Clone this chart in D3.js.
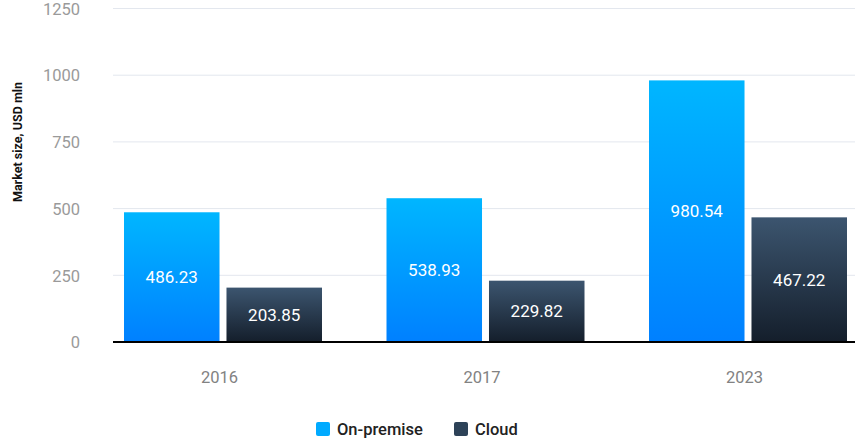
<!DOCTYPE html>
<html><head><meta charset="utf-8">
<script src="https://cdn.jsdelivr.net/npm/d3@7"></script>
<style>body{margin:0;background:#fff;}svg{display:block;font-family:Roboto,"Noto Sans",sans-serif;}</style>
</head><body><svg id="c" width="865" height="438"></svg>
<script>
const years = ["2016", "2017", "2023"];
const series = ["On-premise", "Cloud"];
const onPremise = [486.23, 538.93, 980.54];
const cloud = [203.85, 229.82, 467.22];
const yTicks = [0, 250, 500, 750, 1000, 1250];

const svg = d3.select("#c");
const defs = svg.append("defs");
function grad(id, top, bot){
  const g = defs.append("linearGradient").attr("id", id).attr("x1",0).attr("x2",0).attr("y1",0).attr("y2",1);
  g.append("stop").attr("offset","0%").attr("stop-color",top);
  g.append("stop").attr("offset","100%").attr("stop-color",bot);
}
grad("gOn", "#00b6ff", "#0080ff");
grad("gCl", "#3c556f", "#141e2b");
const fills = {"On-premise":"url(#gOn)", "Cloud":"url(#gCl)"};
const legendCol = {"On-premise":"#00aaff", "Cloud":"#2d4258"};

const gridL = 113, gridR = 855;
const y = d3.scaleLinear().domain([0,1250]).range([342, 8.5]);
const x0 = d3.scaleBand().domain(years).range([91.75, 879.25]).padding(0);
const x1 = d3.scaleBand().domain(series).range([0, 198]).paddingInner(0.068).paddingOuter(0);
const groupOff = (x0.bandwidth() - 198) / 2;

// gridlines
svg.append("g").selectAll("line").data(yTicks.filter(d=>d>0)).join("line")
  .attr("x1", gridL).attr("x2", gridR)
  .attr("y1", d=>y(d)).attr("y2", d=>y(d))
  .attr("stroke", "#e3e7ee").attr("stroke-width", 1);

// y axis labels
const yAxis = d3.axisLeft(y).tickValues(yTicks).tickFormat(d3.format("d")).tickSize(0).tickPadding(0);
const ya = svg.append("g").attr("transform", "translate(80,0)").call(yAxis);
ya.select(".domain").remove();
ya.selectAll("text").attr("font-size", "16.5px").attr("fill", "#9a9a9a").attr("font-family","Roboto,sans-serif").attr("dy","0.35em");

// y title
svg.append("text").attr("transform", "translate(22,142) rotate(-90)")
  .attr("text-anchor","middle").attr("font-size","12.5px").attr("font-weight","bold").attr("fill","#111")
  .text("Market size, USD mln");

// bars
const data = years.map((yr,i)=>({year:yr, vals:[{s:"On-premise", v:onPremise[i]},{s:"Cloud", v:cloud[i]}]}));
const grp = svg.append("g").selectAll("g").data(data).join("g")
  .attr("transform", d=>`translate(${x0(d.year)+groupOff},0)`);
grp.selectAll("rect").data(d=>d.vals).join("rect")
  .attr("x", d=>x1(d.s)).attr("width", x1.bandwidth())
  .attr("y", d=>y(d.v)).attr("height", d=>y(0)-y(d.v))
  .attr("fill", d=>fills[d.s]);
grp.selectAll("text").data(d=>d.vals).join("text")
  .attr("x", d=>x1(d.s)+x1.bandwidth()/2)
  .attr("y", d=>(y(d.v)+y(0))/2).attr("dy","0.35em")
  .attr("text-anchor","middle").attr("fill","#fff").attr("font-size","17px")
  .text(d=>d.v.toFixed(2));

// x axis line
svg.append("line").attr("x1", gridL).attr("x2", gridR).attr("y1", y(0)).attr("y2", y(0))
  .attr("stroke","#000").attr("stroke-width",2);

// x labels
const xAxis = d3.axisBottom(x0).tickSize(0).tickPadding(0);
const xa = svg.append("g").attr("transform", `translate(-3.5,${y(0)+35})`).call(xAxis);
xa.select(".domain").remove();
xa.selectAll("text").attr("font-size","16.5px").attr("fill","#828282").attr("font-family","Roboto,sans-serif").attr("dy","0.35em");

// legend
const leg = svg.append("g");
const legX = [316, 454];
series.forEach((s,i)=>{
  leg.append("rect").attr("x", legX[i]).attr("y", 422).attr("width",14).attr("height",14).attr("rx",2)
    .attr("fill", legendCol[s]);
  leg.append("text").attr("x", legX[i]+21).attr("y", 429).attr("dy","0.35em")
    .attr("font-size","16.5px").attr("font-weight","500").attr("fill","#222").text(s);
});
</script></body></html>
